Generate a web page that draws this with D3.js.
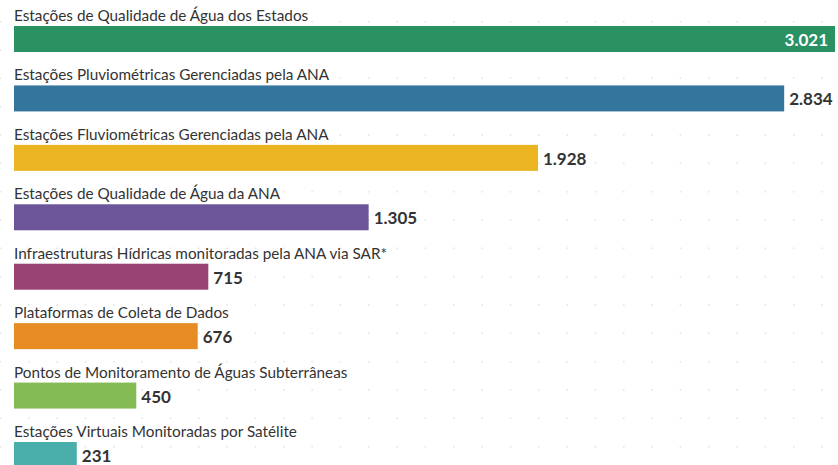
<!DOCTYPE html>
<html>
<head>
<meta charset="utf-8">
<script src="https://cdn.jsdelivr.net/npm/d3@7"></script>
<style>
  body { margin: 0; background: #fff; }
  text { font-family: "Source Sans Pro", Lato, "Noto Sans", sans-serif; }
</style>
</head>
<body>
<div id="chart"></div>
<script>
var categories = [
  "Estações de Qualidade de Água dos Estados",
  "Estações Pluviométricas Gerenciadas pela ANA",
  "Estações Fluviométricas Gerenciadas pela ANA",
  "Estações de Qualidade de Água da ANA",
  "Infraestruturas Hídricas monitoradas pela ANA via SAR*",
  "Plataformas de Coleta de Dados",
  "Pontos de Monitoramento de Águas Subterrâneas",
  "Estações Virtuais Monitoradas por Satélite"
];
var values = [3021, 2834, 1928, 1305, 715, 676, 450, 231];
var colors = ["#2a9162", "#34759e", "#ebb421", "#6c5699", "#994375", "#e78b23", "#84bb55", "#4aaeaa"];

var width = 838, height = 465;

var svg = d3.select("#chart")
  .append("svg")
    .attr("width", width)
    .attr("height", height);

// faint dotted background
var gx = d3.range(0.5, width, 28.33),
    gy = d3.range(21.7 - 28.33, height, 28.33);
var dots = svg.append("g").attr("class", "dots");
gy.forEach(function(yy) {
  dots.selectAll(null)
    .data(gx)
    .enter().append("circle")
      .attr("cx", function(d) { return d; })
      .attr("cy", yy)
      .attr("r", 1)
      .attr("fill", "#e8e8e8");
});

var x = d3.scaleLinear()
  .domain([0, d3.max(values)])
  .range([14, 835]);

// one band per row, bar sits at top of band
var y = d3.scaleBand()
  .domain(categories)
  .range([26, 26 + 59.43 * categories.length])
  .padding(0);

var bh = 26;

svg.selectAll(".label")
  .data(categories)
  .enter().append("text")
    .attr("class", "label")
    .attr("x", 14)
    .attr("y", function(d) { return y(d) - 5; })
    .attr("font-size", "15.3px")
    .attr("fill", "#333")
    .text(function(d) { return d; });

svg.selectAll(".bar")
  .data(values)
  .enter().append("rect")
    .attr("class", "bar")
    .attr("x", x(0))
    .attr("y", function(d, i) { return y(categories[i]); })
    .attr("width", function(d) { return x(d) - x(0); })
    .attr("height", bh)
    .attr("fill", function(d, i) { return colors[i]; });

var fmt = function(v) { return d3.format(",")(v).replace(/,/g, "."); };

svg.selectAll(".value")
  .data(values)
  .enter().append("text")
    .attr("class", "value")
    .attr("x", function(d, i) { return i == 0 ? x(d) - 7 : x(d) + 5; })
    .attr("y", function(d, i) { return y(categories[i]) + 20; })
    .attr("text-anchor", function(d, i) { return i == 0 ? "end" : "start"; })
    .attr("font-size", "17px")
    .attr("font-weight", "bold")
    .attr("fill", function(d, i) { return i == 0 ? "#fff" : "#333"; })
    .text(function(d) { return fmt(d); });
</script>
</body>
</html>
